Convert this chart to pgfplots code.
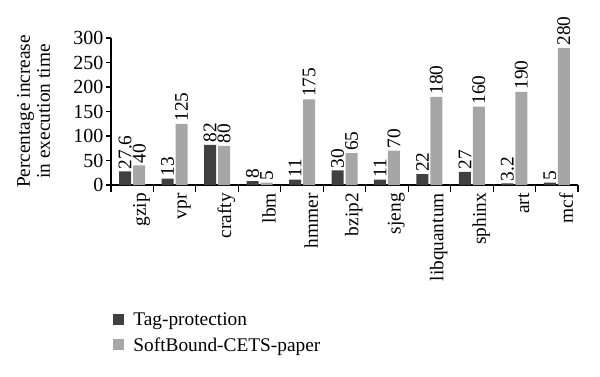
\documentclass[border=0pt]{standalone}
\usepackage{pgfplots}
\pgfplotsset{compat=1.18}
\usepackage{fontspec}
\setmainfont{Liberation Serif}
\definecolor{darkbar}{HTML}{404040}
\definecolor{lightbar}{HTML}{A6A6A6}
\begin{document}
\begin{tikzpicture}[x=1pt,y=1pt]
\path[use as bounding box] (0,0) rectangle (450,282);
\begin{axis}[
  at={(83.25pt,143.25pt)}, anchor=south west,
  scale only axis, width=350.25pt, height=110.25pt,
  ybar=1.5pt, bar width=9pt,
  xmin=-0.5, xmax=10.5, ymin=0, ymax=300,
  axis lines*=left,
  axis line style={line width=0.8pt},
  xtick={0,...,10},
  xticklabels={gzip,vpr,crafty,lbm,hmmer,bzip2,sjeng,libquantum,sphinx,art,mcf},
  minor xtick={-0.5,0.5,...,10.5},
  x tick label style={rotate=90, anchor=east, font=\fontsize{14.5}{16}\selectfont, inner sep=2pt, yshift=-7pt},
  y tick label style={font=\fontsize{15}{17}\selectfont, inner sep=1.5pt},
  ytick={0,50,...,300},
  major x tick style={draw=none},
  minor tick length=5pt,
  major tick length=4pt,
  tick align=outside,
  tick style={line width=0.8pt, black},
  /pgf/number format/assume math mode=true,
  ylabel={Percentage increase\\in execution time},
  ylabel style={at={(axis description cs:-0.166,0.5)}, anchor=center, align=center, font=\fontsize{14.5}{15}\selectfont},
  nodes near coords,
  every node near coord/.append style={rotate=90, anchor=west, font=\fontsize{14.5}{16}\selectfont, inner sep=1.5pt},
  point meta=explicit symbolic,
  legend style={at={(axis description cs:-0.004,-0.83)}, anchor=north west, draw=none, fill=none, font=\fontsize{14.5}{16}\selectfont, row sep=3.5pt, nodes={inner xsep=7pt}},
  legend cell align=left,
  legend image code/.code={\draw[#1,draw=none] (0cm,-0.13cm) rectangle (8pt,0.16cm);},
]
\addplot[fill=darkbar, draw=none] coordinates {
 (0,27.6) [27.6] (1,13) [13] (2,82) [82] (3,8) [8] (4,11) [11] (5,30) [30]
 (6,11) [11] (7,22) [22] (8,27) [27] (9,3.2) [3.2] (10,5) [5]};
\addplot[fill=lightbar, draw=none] coordinates {
 (0,40) [40] (1,125) [125] (2,80) [80] (3,5) [5] (4,175) [175] (5,65) [65]
 (6,70) [70] (7,180) [180] (8,160) [160] (9,190) [190] (10,280) [280]};
\legend{Tag-protection, SoftBound-CETS-paper}
\end{axis}
\end{tikzpicture}
\end{document}
